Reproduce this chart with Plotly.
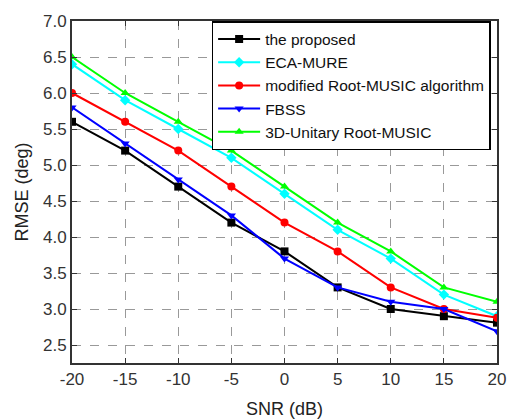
import plotly.graph_objects as go

snr = [-20, -15, -10, -5, 0, 5, 10, 15, 20]
x_tick_labels = ["-20", "-15", "-10", "-5", "0", "5", "10", "15", "20"]
proposed = [5.6, 5.2, 4.7, 4.2, 3.8, 3.3, 3.0, 2.9, 2.81]
eca_mure = [6.4, 5.9, 5.5, 5.1, 4.6, 4.1, 3.7, 3.2, 2.9]
modified_root_music = [6.0, 5.6, 5.2, 4.7, 4.2, 3.8, 3.3, 3.0, 2.88]
fbss = [5.8, 5.3, 4.8, 4.3, 3.7, 3.3, 3.1, 3.0, 2.69]
unitary_3d = [6.5, 6.0, 5.6, 5.2, 4.7, 4.2, 3.8, 3.3, 3.1]

series = [
    ("the proposed", proposed, "#000000", "square"),
    ("ECA-MURE", eca_mure, "#00FFFF", "diamond"),
    ("modified Root-MUSIC algorithm", modified_root_music, "#FF0000", "circle"),
    ("FBSS", fbss, "#0000FF", "triangle-down"),
    ("3D-Unitary Root-MUSIC", unitary_3d, "#00FF00", "triangle-up"),
]

fig = go.Figure()
for name, vals, color, sym in series:
    fig.add_trace(go.Scatter(
        x=snr, y=vals, name=name, mode="lines+markers",
        line=dict(color=color, width=2),
        marker=dict(symbol=sym, size=8, color=color),
    ))

FONT = "Arial, Liberation Sans, sans-serif"
axis_common = dict(
    showline=True, linecolor="#333333", linewidth=2, mirror="ticks",
    ticks="inside", ticklen=5, tickcolor="#333333",
    showgrid=True, gridcolor="#999999", griddash="dash", gridwidth=1,
    zeroline=False, automargin=False,
    tickfont=dict(family=FONT, size=17, color="#333333"),
    title_font=dict(family=FONT, size=18, color="#222222"),
)

fig.update_xaxes(range=[-20, 20], tickmode="array", tickvals=snr,
                 ticktext=x_tick_labels, title_text="SNR (dB)",
                 title_standoff=14, **axis_common)
fig.update_yaxes(range=[2.25, 7.0], dtick=0.5, tickformat=".1f",
                 title_text="RMSE (deg)", title_standoff=10, **axis_common)

fig.update_layout(
    width=507, height=419,
    margin=dict(l=72, r=10, t=21, b=56),
    plot_bgcolor="white", paper_bgcolor="white",
    legend=dict(
        x=0.985, y=1.0, xanchor="right", yanchor="top",
        bgcolor="white", bordercolor="#000000", borderwidth=1.5,
        font=dict(family=FONT, size=15.5, color="#111111"),
        tracegroupgap=0, itemwidth=42,
    ),
)

fig.write_html(
    "out.html",
    config={"displayModeBar": False},
    post_script="document.body.style.margin='0';document.body.style.overflow='hidden';",
)
